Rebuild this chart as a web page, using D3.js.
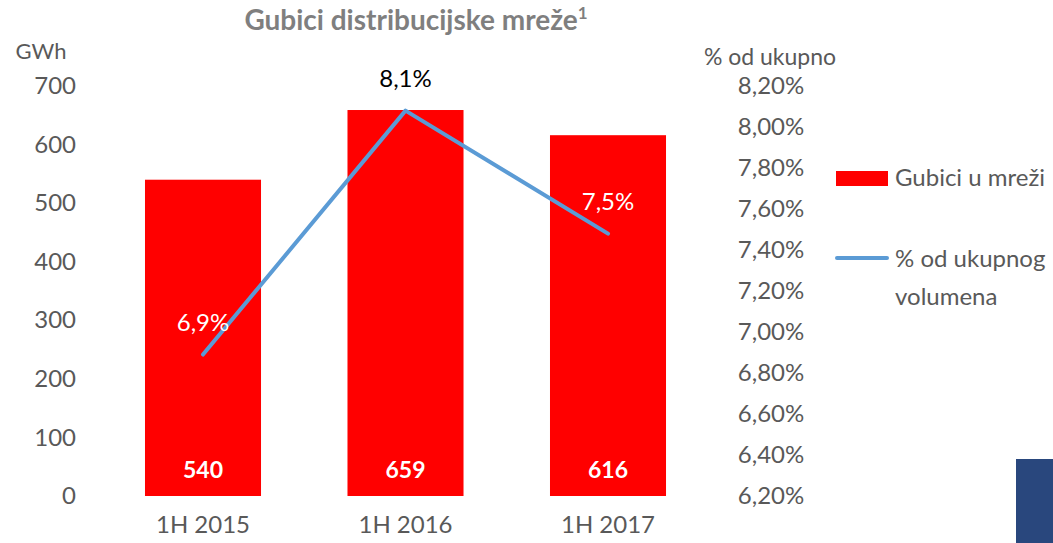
<!DOCTYPE html>
<html>
<head>
<meta charset="utf-8">
<script src="https://cdn.jsdelivr.net/npm/d3@7"></script>
<style>
  body { margin: 0; background: #fff; }
  svg text { font-family: Lato, "Open Sans", sans-serif; }
</style>
</head>
<body>
<div id="chart"></div>
<script>
// data
var periods = ["1H 2015", "1H 2016", "1H 2017"];
var losses = [540, 659, 616];           // GWh
var lossShare = [6.89, 8.08, 7.48];     // % of total volume
var shareLabels = ["6,9%", "8,1%", "7,5%"];
var leftTicks = [0, 100, 200, 300, 400, 500, 600, 700];
var rightTicks = [6.2, 6.4, 6.6, 6.8, 7.0, 7.2, 7.4, 7.6, 7.8, 8.0, 8.2];

var width = 1053, height = 543;
var grey = "#595959", red = "#ff0000", blue = "#5b9bd5";

var svg = d3.select("#chart").append("svg")
    .attr("width", width).attr("height", height);

var x = d3.scaleBand().domain(periods).range([101.75, 709.25])
    .paddingInner(0.427).paddingOuter(0.2135);
var yL = d3.scaleLinear().domain([0, 700]).range([496, 86]);
var yR = d3.scaleLinear().domain([6.2, 8.2]).range([496, 86]);

// title
var title = svg.append("text").attr("x", 416).attr("y", 30)
    .attr("text-anchor", "middle").attr("fill", "#7f7f7f")
    .style("font-size", "28px").style("font-weight", "bold")
    .text("Gubici distribucijske mreže");
title.append("tspan").attr("dy", -11).style("font-size", "17px").text("1");

// axis units
svg.append("text").attr("x", 41).attr("y", 59).attr("text-anchor", "middle")
    .attr("fill", grey).style("font-size", "22px").text("GWh");
svg.append("text").attr("x", 770).attr("y", 65).attr("text-anchor", "middle")
    .attr("fill", grey).style("font-size", "23px").text("% od ukupno");

// left axis (labels only)
var axL = svg.append("g").attr("transform", "translate(76,0)")
    .call(d3.axisLeft(yL).tickValues(leftTicks).tickSize(0).tickPadding(0));
axL.select(".domain").remove();
axL.selectAll("text").attr("fill", grey).style("font-size", "24px");

// right axis (labels only)
var fmt = function(d) { return d.toFixed(2).replace(".", ",") + "%"; };
var axR = svg.append("g").attr("transform", "translate(771,0)")
    .call(d3.axisRight(yR).tickValues(rightTicks).tickFormat(fmt).tickSize(0).tickPadding(0));
axR.select(".domain").remove();
axR.selectAll("text").attr("text-anchor", "middle").attr("fill", grey).style("font-size", "24px");

// category axis
var axX = svg.append("g").attr("transform", "translate(0,496)")
    .call(d3.axisBottom(x).tickSize(0).tickPadding(20));
axX.select(".domain").remove();
axX.selectAll("text").attr("fill", grey).style("font-size", "24px");

// bars
svg.append("g").selectAll("rect").data(losses).enter().append("rect")
    .attr("x", function(d, i) { return x(periods[i]); })
    .attr("y", function(d) { return yL(d); })
    .attr("width", x.bandwidth())
    .attr("height", function(d) { return yL(0) - yL(d); })
    .attr("fill", red);

svg.append("g").selectAll("text").data(losses).enter().append("text")
    .attr("x", function(d, i) { return x(periods[i]) + x.bandwidth() / 2; })
    .attr("y", 478).attr("text-anchor", "middle")
    .attr("fill", "#fff").style("font-size", "23px").style("font-weight", "bold")
    .text(function(d) { return d; });

// line
var cx = function(i) { return x(periods[i]) + x.bandwidth() / 2; };
var line = d3.line().x(function(d, i) { return cx(i); }).y(function(d) { return yR(d); });
svg.append("path").datum(lossShare).attr("d", line)
    .attr("fill", "none").attr("stroke", blue).attr("stroke-width", 4)
    .attr("stroke-linecap", "round").attr("stroke-linejoin", "round");

svg.append("g").selectAll("text").data(lossShare).enter().append("text")
    .attr("x", function(d, i) { return cx(i); })
    .attr("y", function(d) { return yR(d) - 24; })
    .attr("text-anchor", "middle").style("font-size", "24px")
    .attr("fill", function(d, i) { return yR(d) - 32 > yL(losses[i]) ? "#fff" : "#000"; })
    .text(function(d, i) { return shareLabels[i]; });

// legend
var lg = svg.append("g");
lg.append("rect").attr("x", 836).attr("y", 171).attr("width", 52).attr("height", 15).attr("fill", red);
lg.append("text").attr("x", 895).attr("y", 186).attr("fill", grey).style("font-size", "24px").text("Gubici u mreži");
lg.append("line").attr("x1", 837).attr("x2", 887).attr("y1", 258).attr("y2", 258)
    .attr("stroke", blue).attr("stroke-width", 4).attr("stroke-linecap", "round");
lg.append("text").attr("x", 895).attr("y", 267).attr("fill", grey).style("font-size", "24px").text("% od ukupnog");
lg.append("text").attr("x", 895).attr("y", 305).attr("fill", grey).style("font-size", "24px").text("volumena");

// dark block at bottom right
svg.append("rect").attr("x", 1016).attr("y", 459).attr("width", 37).attr("height", 84).attr("fill", "#29477d");
</script>
</body>
</html>
